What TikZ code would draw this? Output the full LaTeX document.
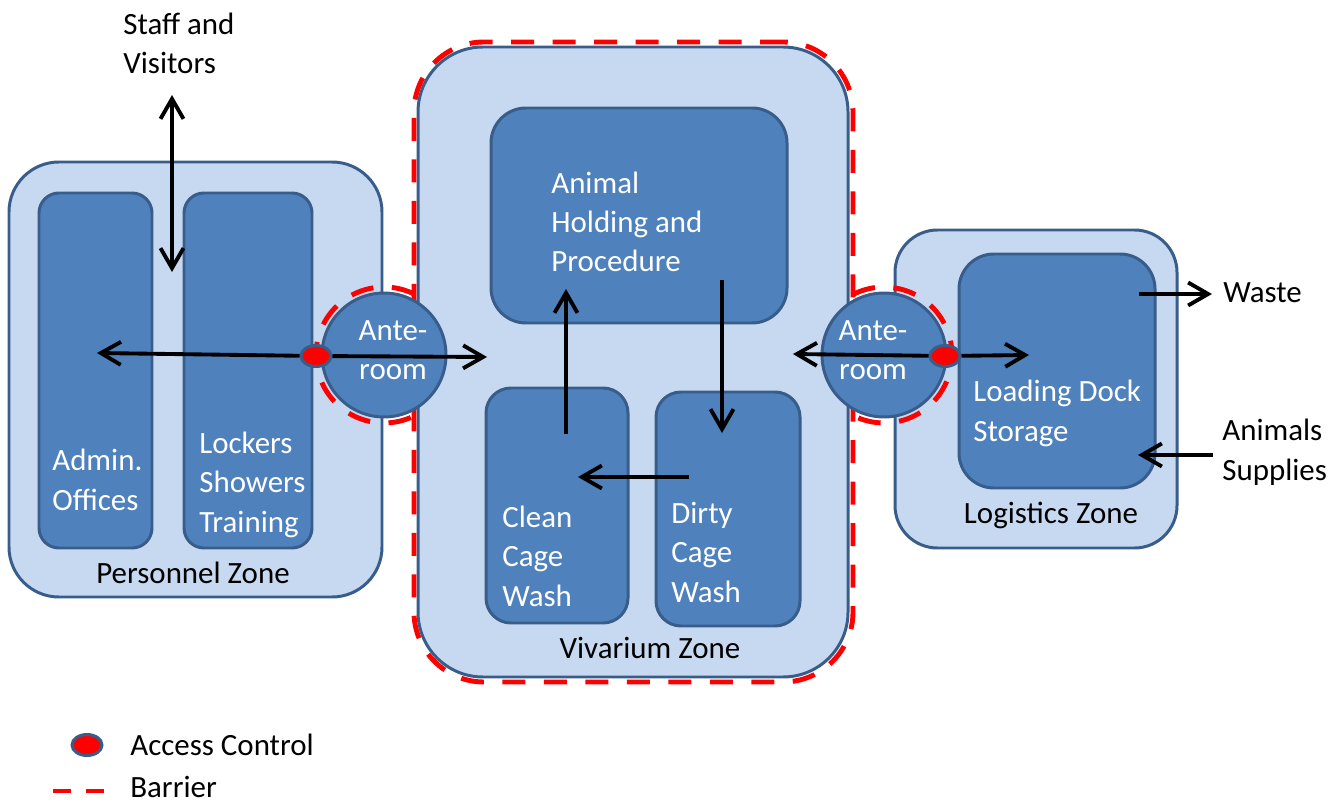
\documentclass[tikz,border=0pt]{standalone}
\usepackage{fontspec}
\setmainfont{Carlito}
\usetikzlibrary{positioning,fit,arrows.meta,shapes.geometric}

\definecolor{zonefill}{HTML}{C6D9F1}
\definecolor{roomfill}{HTML}{4F81BD}
\definecolor{edgeblue}{HTML}{385D8A}
\definecolor{barred}{HTML}{FF0000}

\begin{document}
\begin{tikzpicture}[x=0.02cm,y=-0.02cm,
  zone/.style={draw=edgeblue, fill=zonefill, line width=1.7pt, inner sep=0pt, rounded corners=#1},
  room/.style={draw=edgeblue, fill=roomfill, line width=1.7pt, inner sep=0pt, rounded corners=#1},
  ante/.style={circle, draw=edgeblue, fill=roomfill, line width=1.7pt, inner sep=0pt, minimum size=2.48cm},
  barrier/.style={draw=barred, line width=2.8pt, dash pattern=on 0.46cm off 0.37cm},
  access/.style={ellipse, draw=edgeblue, fill=barred, line width=1.7pt, inner sep=0pt, minimum width=0.6cm, minimum height=0.42cm},
  arr/.style={line width=2.2pt, -{Straight Barb[length=0.4cm,width=0.46cm]}},
  arrboth/.style={line width=2.2pt, {Straight Barb[length=0.4cm,width=0.46cm]}-{Straight Barb[length=0.4cm,width=0.46cm]}},
  txt/.style={font=\fontsize{17.6}{22.2}\selectfont, inner sep=0pt, align=left, anchor=base west},
  wtxt/.style={txt, text=white},
  ztxt/.style={txt, anchor=base, align=center}]

\useasboundingbox (0,0) rectangle (1341,803);

% zones
\node[zone=1cm, fit={(9,162) (382,597)}] (personnel) {};
\node[zone=0.85cm, fit={(895,230) (1177,548)}] (logistics) {};
\node[zone=1.3cm, fit={(418,47) (848,677)}] (vivarium) {};
\node[barrier, rounded corners=1.4cm, inner sep=0pt, fit={(414,42) (853,682)}] (barrier_v) {};

% rooms
\node[room=0.4cm, fit={(39,193) (152,548)}] (admin) {};
\node[room=0.4cm, fit={(184,193) (312,548)}] (lockers) {};
\node[room=0.7cm, fit={(491,108) (787,323)}] (holding) {};
\node[room=0.5cm, fit={(486,388) (628,623)}] (clean) {};
\node[room=0.5cm, fit={(656,392) (800,626)}] (dirty) {};
\node[room=0.7cm, fit={(959,254) (1155,488)}] (loading) {};

% anterooms
\node[ante] (ante_l) at (384,355) {};
\node[ante] (ante_r) at (884,355) {};
\draw[barrier] (ante_l.center) ++(64:1.36cm) arc[start angle=64, end angle=296, radius=1.36cm];
\draw[barrier] (ante_r.center) ++(117:1.36cm) arc[start angle=117, end angle=-117, radius=1.36cm];

% texts (placed at the baseline of the last line)
\node[txt] (staff) at (123,74) {Staff and\\Visitors};
\node[wtxt] (admin_txt) at (52,510) {Admin.\\Offices};
\node[wtxt] (lockers_txt) at (199,532) {Lockers\\Showers\\Training};
\node[ztxt] (personnel_txt) at (193,583) {Personnel Zone};
\node[wtxt, align=center, anchor=base] (ante_l_txt) at (393,380) {Ante-\\room};
\node[wtxt, align=center, anchor=base] (ante_r_txt) at (873,380) {Ante-\\room};
\node[wtxt] (holding_txt) at (551,272) {Animal\\Holding and\\Procedure};
\node[wtxt] (clean_txt) at (502,606) {Clean\\Cage\\Wash};
\node[wtxt] (dirty_txt) at (671,602) {Dirty\\Cage\\Wash};
\node[ztxt] (vivarium_txt) at (650,658) {Vivarium Zone};
\node[wtxt] (loading_txt) at (973,441) {Loading Dock\\Storage};
\node[ztxt] (logistics_txt) at (1051,523) {Logistics Zone};
\node[txt] (waste) at (1223,303) {Waste};
\node[txt] (supplies) at (1222,480) {Animals\\Supplies};

% access points
\node[access] (dot_l) at (316,356) {};
\node[access] (dot_r) at (945,356) {};

% flows
\coordinate (staff_top) at (172,95);
\coordinate (staff_bot) at (172,272);
\coordinate (admin_in) at (97,353);
\coordinate (viv_in_l) at (487,357);
\coordinate (viv_in_r) at (793,354);
\coordinate (loading_in) at (1029,355);
\coordinate (clean_out) at (566,434);
\coordinate (holding_in) at (566,289);
\coordinate (holding_out) at (722,280);
\coordinate (dirty_in) at (722,433);
\coordinate (dirty_out) at (689,477);
\coordinate (clean_in) at (578,477);
\coordinate (waste_out) at (1139,294);
\coordinate (waste_in) at (1212,294);
\coordinate (supply_out) at (1213,455);
\coordinate (supply_in) at (1138,455);

\draw[arrboth] (staff_top) -- (staff_bot);
\draw[arr] (dot_l) -- (admin_in);
\draw[arr] (dot_l) -- (viv_in_l);
\draw[arr] (dot_r) -- (viv_in_r);
\draw[arr] (dot_r) -- (loading_in);
\draw[arr] (clean_out) -- (holding_in);
\draw[arr] (holding_out) -- (dirty_in);
\draw[arr] (dirty_out) -- (clean_in);
\draw[arr] (waste_out) -- (waste_in);
\draw[arr] (supply_out) -- (supply_in);

% legend
\node[access] (legend_dot) at (87,745) {};
\node[txt] (legend_access) at (130,755) {Access Control};
\coordinate (legend_a) at (53,791);
\coordinate (legend_b) at (104,791);
\draw[barrier, dash pattern=on 0.36cm off 0.3cm] (legend_a) -- (legend_b);
\node[txt] (legend_barrier) at (130,797) {Barrier};
\end{tikzpicture}
\end{document}
